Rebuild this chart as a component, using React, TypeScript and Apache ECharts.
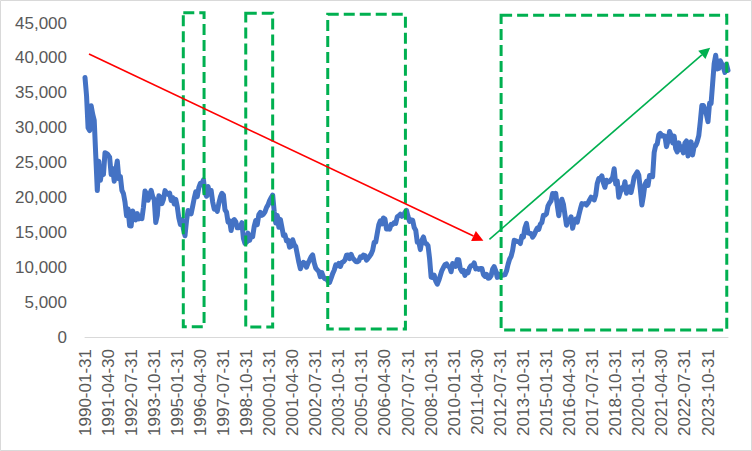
import React, { useEffect, useRef } from "react";
import * as echarts from "echarts";

// Nikkei 225 month-end closes, 1990-01 .. 2024-11
const y1990 = [37189, 34592, 29980, 29585, 33131, 31940, 31036, 25978, 20984, 25194, 22454, 23849];
const y1991 = [23293, 26409, 26292, 26111, 25790, 23291, 24121, 22336, 23916, 25222, 22688, 22984];
const y1992 = [21015, 20548, 19346, 17391, 18349, 15952, 15910, 18061, 17399, 16767, 17683, 16925];
const y1993 = [17024, 16953, 18591, 20919, 20552, 19590, 20380, 21027, 20106, 19703, 16408, 17417];
const y1994 = [20229, 19997, 19112, 19725, 20974, 20644, 20450, 20629, 19564, 19990, 19076, 19723];
const y1995 = [18650, 17053, 16140, 16807, 15437, 14517, 16678, 18117, 17913, 17655, 18744, 19868];
const y1996 = [20813, 20125, 21407, 22041, 21956, 22531, 20693, 20167, 21556, 20467, 21020, 19361];
const y1997 = [18330, 18557, 18003, 19151, 20069, 20605, 20331, 18229, 17888, 16459, 16636, 15259];
const y1998 = [16628, 16832, 16527, 15641, 15671, 15830, 16379, 14108, 13406, 13565, 14884, 13842];
const y1999 = [14499, 14368, 15837, 16701, 16112, 17530, 17862, 17437, 17605, 17942, 18558, 18934];
const y2000 = [19540, 19960, 20337, 17974, 16332, 17411, 15727, 16861, 15747, 14539, 14649, 13786];
const y2001 = [13844, 12884, 12999, 13934, 13262, 12969, 11861, 10714, 9775, 10367, 10697, 10543];
const y2002 = [9998, 10588, 11025, 11493, 11764, 10622, 9877, 9619, 9383, 8640, 9216, 8579];
const y2003 = [8340, 8363, 7973, 7831, 8425, 9083, 9563, 10344, 10219, 10560, 10101, 10677];
const y2004 = [10784, 11042, 11715, 11762, 11236, 11859, 11326, 11082, 10824, 10771, 10899, 11489];
const y2005 = [11388, 11741, 11669, 11009, 11277, 11584, 11900, 12414, 13574, 13607, 14872, 16111];
const y2006 = [16650, 16206, 17060, 16906, 15468, 15505, 15457, 16141, 16128, 16399, 16274, 17226];
const y2007 = [17383, 17604, 17288, 17400, 17876, 18138, 17249, 16569, 16786, 16737, 15681, 15308];
const y2008 = [13592, 13603, 12526, 13850, 14339, 13481, 13377, 13073, 11260, 8577, 8512, 8860];
const y2009 = [7994, 7568, 8110, 8828, 9523, 9958, 10357, 10493, 10133, 10035, 9346, 10546];
const y2010 = [10198, 10126, 11090, 11057, 9769, 9383, 9537, 8824, 9369, 9202, 9937, 10229];
const y2011 = [10238, 10624, 9755, 9850, 9694, 9816, 9833, 8955, 8700, 8988, 8434, 8455];
const y2012 = [8803, 9723, 10084, 9521, 8543, 9007, 8695, 8840, 8870, 8928, 9446, 10395];
const y2013 = [11139, 11559, 12398, 13861, 13775, 13677, 13668, 13389, 14456, 14328, 15662, 16291];
const y2014 = [14915, 14841, 14828, 14304, 14632, 15162, 15621, 15425, 16174, 16414, 17460, 17451];
const y2015 = [17674, 18798, 19207, 19520, 20563, 20236, 20585, 18890, 17388, 19083, 19747, 19034];
const y2016 = [17518, 16027, 16759, 16666, 17235, 15576, 16569, 16887, 16450, 17425, 18308, 19114];
const y2017 = [19041, 19119, 18909, 19197, 19651, 20033, 19925, 19646, 20356, 22012, 22725, 22765];
const y2018 = [23098, 22068, 21454, 22468, 22202, 22305, 22554, 22865, 24120, 21920, 22351, 20015];
const y2019 = [20773, 21385, 21206, 22259, 20601, 21276, 21522, 20704, 21756, 22927, 23294, 23657];
const y2020 = [23205, 21143, 18917, 20194, 21878, 22288, 21710, 23140, 23185, 22977, 26434, 27444];
const y2021 = [27663, 28966, 29179, 28813, 28860, 28792, 27284, 28090, 29453, 28893, 27822, 28792];
const y2022 = [27002, 26527, 27821, 26848, 27280, 26393, 27802, 28092, 25937, 27587, 27968, 26095];
const y2023 = [27327, 27446, 28041, 28856, 30888, 33189, 33172, 32619, 31858, 30859, 33487, 33464];
const y2024 = [36287, 39166, 40369, 38406, 38488, 39583, 39102, 38648, 37920, 39081, 38208];

const values: number[] = [
  ...y1990, ...y1991, ...y1992, ...y1993, ...y1994, ...y1995, ...y1996, ...y1997,
  ...y1998, ...y1999, ...y2000, ...y2001, ...y2002, ...y2003, ...y2004, ...y2005,
  ...y2006, ...y2007, ...y2008, ...y2009, ...y2010, ...y2011, ...y2012, ...y2013,
  ...y2014, ...y2015, ...y2016, ...y2017, ...y2018, ...y2019, ...y2020, ...y2021,
  ...y2022, ...y2023, ...y2024,
];

// Month-end date categories
const startYear = 1990;
const categories: string[] = values.map((_, i) => {
  const y = startYear + Math.floor(i / 12);
  const m = i % 12;
  const d = new Date(Date.UTC(y, m + 1, 0)).getUTCDate();
  return `${y}-${String(m + 1).padStart(2, "0")}-${String(d).padStart(2, "0")}`;
});

// Y axis ticks
const yMin = 0;
const yMax = 45000;
const yStep = 5000;

// Annotations in data space: [fromIndex, toIndex, lowValue, highValue]
const boxes: [number, number, number, number][] = [
  [63.9, 77.4, 1480, 46470],
  [104.5, 122.0, 1430, 46390],
  [157.8, 208.3, 1150, 46240],
  [270.5, 417.2, 1000, 46100],
];
// Arrows: [fromIndex, fromValue, toIndex, toValue]
const redArrow: [number, number, number, number] = [2.6, 40550, 259.0, 13800];
const greenArrow: [number, number, number, number] = [262.9, 14000, 406.4, 41460];

const BLUE = "#4472C4";
const GREEN = "#00B050";
const RED = "#FF0000";
const LABEL = "#595959";
const FONT = "Liberation Sans, Arial, sans-serif";

export default function App() {
  const ref = useRef<HTMLDivElement>(null);
  useEffect(() => {
    if (!ref.current) return;
    const chart = echarts.init(ref.current, undefined, { renderer: "svg" });
    chart.setOption({
      animation: false,
      backgroundColor: "#ffffff",
      grid: { left: 85, right: 24, top: 23, bottom: 114 },
      xAxis: [
        {
          type: "category",
          data: categories,
          boundaryGap: false,
          axisLine: { lineStyle: { color: "#d9d9d9", width: 1 } },
          axisTick: { show: false },
          axisLabel: {
            interval: 14,
            rotate: 90,
            margin: 12,
            color: LABEL,
            fontSize: 17,
            fontFamily: FONT,
          },
          splitLine: { show: false },
        },
        {
          type: "value",
          min: 0,
          max: values.length - 1,
          show: false,
        },
      ],
      yAxis: {
        type: "value",
        min: yMin,
        max: yMax,
        interval: yStep,
        axisLine: { show: false },
        axisTick: { show: false },
        splitLine: { show: false },
        axisLabel: {
          margin: 18,
          color: LABEL,
          fontSize: 17,
          fontFamily: FONT,
          formatter: (v: number) => v.toLocaleString("en-US"),
        },
      },
      series: [
        {
          type: "line",
          data: values,
          showSymbol: false,
          symbol: "none",
          lineStyle: { color: BLUE, width: 5, join: "round", cap: "round" },
          z: 3,
        },
        {
          type: "line",
          xAxisIndex: 1,
          data: [],
          symbol: "none",
        },
      ],
    });

    const px = (x: number, y: number) =>
      chart.convertToPixel({ seriesIndex: 1 }, [x, y]) as number[];

    const graphics: any[] = [];
    graphics.push({
      type: "rect",
      shape: { x: 0.5, y: 0.5, width: 751, height: 450 },
      style: { fill: "none", stroke: "#d9d9d9", lineWidth: 1 },
      z: 1,
    });
    boxes.forEach(([x0, x1, v0, v1]) => {
      const a = px(x0, v1);
      const b = px(x1, v0);
      graphics.push({
        type: "rect",
        shape: { x: a[0], y: a[1], width: b[0] - a[0], height: b[1] - a[1] },
        style: { fill: "none", stroke: GREEN, lineWidth: 3, lineDash: [11, 5] },
        z: 10,
      });
    });
    const arrow = (arr: [number, number, number, number], color: string) => {
      const s = px(arr[0], arr[1]);
      const t = px(arr[2], arr[3]);
      const dx = t[0] - s[0];
      const dy = t[1] - s[1];
      const len = Math.hypot(dx, dy);
      const ux = dx / len;
      const uy = dy / len;
      const headL = 11;
      const headW = 5.5;
      const bx = t[0] - ux * headL;
      const by = t[1] - uy * headL;
      graphics.push({
        type: "line",
        shape: { x1: s[0], y1: s[1], x2: bx, y2: by },
        style: { stroke: color, lineWidth: 1.6 },
        z: 11,
      });
      graphics.push({
        type: "polygon",
        shape: {
          points: [
            [t[0], t[1]],
            [bx - uy * headW, by + ux * headW],
            [bx + uy * headW, by - ux * headW],
          ],
        },
        style: { fill: color },
        z: 11,
      });
    };
    arrow(redArrow, RED);
    arrow(greenArrow, GREEN);

    chart.setOption({ graphic: graphics });

    return () => chart.dispose();
  }, []);
  return (
    <div
      ref={ref}
      style={{ position: "fixed", left: 0, top: 0, width: 752, height: 451 }}
    />
  );
}
